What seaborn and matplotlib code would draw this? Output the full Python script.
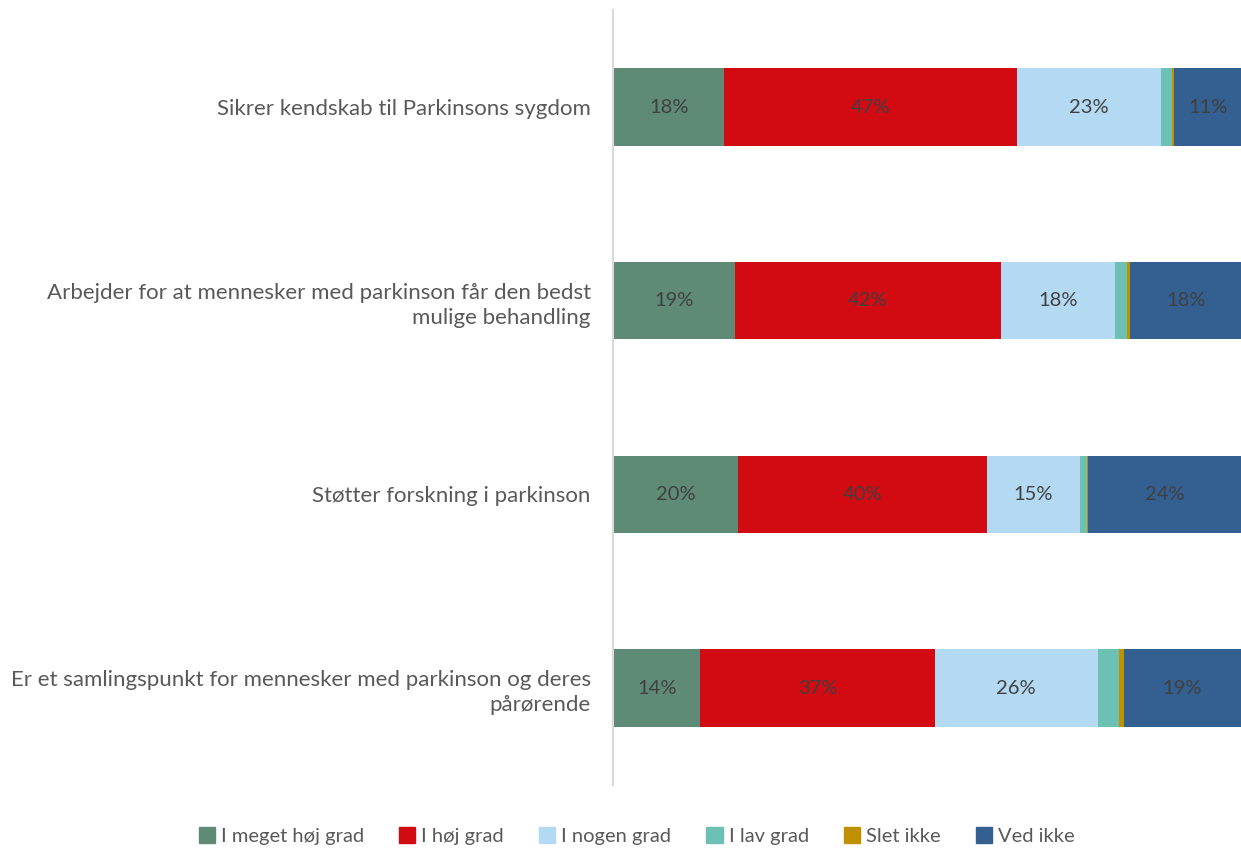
import matplotlib
matplotlib.use('Agg')
import matplotlib.pyplot as plt
import seaborn as sns
import numpy as np
import pandas as pd

# Data (percent of respondents)
kategorier = [
    'Sikrer kendskab til Parkinsons sygdom',
    'Arbejder for at mennesker med parkinson får den bedst\nmulige behandling',
    'Støtter forskning i parkinson',
    'Er et samlingspunkt for mennesker med parkinson og deres\npårørende',
]
serier = ['I meget høj grad', 'I høj grad', 'I nogen grad', 'I lav grad', 'Slet ikke', 'Ved ikke']
meget_hoj = [17.7, 19.4, 19.9, 13.9]
hoj = [46.7, 42.4, 39.6, 37.3]
nogen = [22.8, 18.2, 14.8, 26.0]
lav = [1.8, 1.9, 1.1, 3.3]
slet_ikke = [0.4, 0.5, 0.3, 0.8]
ved_ikke = [10.6, 17.6, 24.3, 18.7]

farver = ['#5f8b76', '#d20a11', '#b4d9f2', '#6cc0b4', '#bf9000', '#335f91']

df = pd.DataFrame({'kategori': kategorier, 'I meget høj grad': meget_hoj, 'I høj grad': hoj,
                   'I nogen grad': nogen, 'I lav grad': lav, 'Slet ikke': slet_ikke,
                   'Ved ikke': ved_ikke})
kum = df[serier].cumsum(axis=1)

sns.set_style('white')
plt.rcParams['font.family'] = ['Lato', 'DejaVu Sans']

fig = plt.figure(figsize=(12.41, 8.49), dpi=100)
ax = fig.add_axes([0.494, 0.0754, 0.506, 0.9126])

# stacked bars: draw cumulative totals from the widest to the narrowest
for s, c in reversed(list(zip(serier, farver))):
    sns.barplot(x=kum[s], y=df['kategori'], color=c, orient='h', width=0.4,
                ax=ax, saturation=1, linewidth=0)

# value labels for the bigger segments
for s in serier:
    for i in range(len(df)):
        v = df[s][i]
        if v >= 5:
            mid = kum[s][i] - v / 2
            ax.text(mid, i, f'{v:.0f}%', ha='center', va='center', fontsize=14.5, color='#404040')

ax.set_xlim(0, 100)
ax.set_ylim(3.5, -0.5)
ax.set_xlabel('')
ax.set_ylabel('')
ax.set_xticks([])
for sp in ['top', 'right', 'bottom']:
    ax.spines[sp].set_visible(False)
ax.spines['left'].set_color('#d9d9d9')
ax.spines['left'].set_linewidth(1.5)
ax.tick_params(axis='y', length=0, pad=16, labelsize=16, labelcolor='#595959')
for lbl in ax.get_yticklabels():
    lbl.set_horizontalalignment('right')
    lbl.set_multialignment('right')
    lbl.set_linespacing(1.3)

handles = [plt.Rectangle((0, 0), 1, 1, color=c) for c in farver]
fig.legend(handles, serier, loc='center', bbox_to_anchor=(0.513, 0.015), ncol=6,
           frameon=False, fontsize=14.5, labelcolor='#595959', handlelength=0.8,
           handleheight=0.8, handletextpad=0.3, columnspacing=1.75)

plt.savefig('out.png', dpi=100)
